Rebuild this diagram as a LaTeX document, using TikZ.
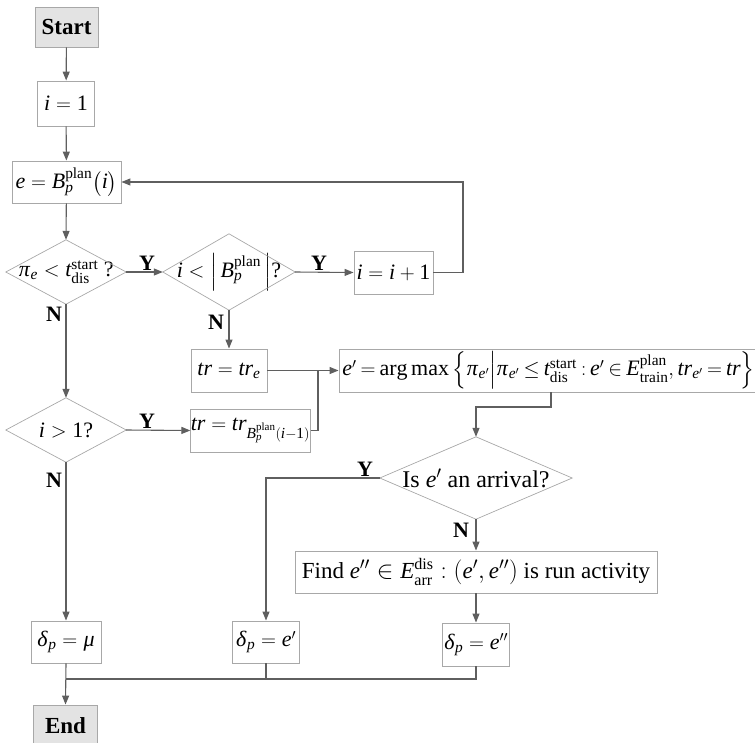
\documentclass[tikz,border=0pt]{standalone}
\usepackage{amsmath}
\usepackage{mathspec}
\setmainfont{Liberation Serif}
\setmathsfont(Digits,Latin,Greek){Liberation Serif}
\setmathrm{Liberation Serif}
\usetikzlibrary{arrows.meta}
\definecolor{linec}{HTML}{5F5F5F}
\definecolor{boxc}{HTML}{A8A8A8}
\definecolor{termc}{HTML}{E3E3E3}
\begin{document}
\begin{tikzpicture}[x=1pt,y=-1pt,
  every node/.style={font=\fontsize{22}{26}\selectfont, inner sep=0pt},
  bigtxt/.style={font=\fontsize{24}{28}\selectfont},
  midtxt/.style={font=\fontsize{23}{27}\selectfont},
  proc/.style={draw=boxc, line width=0.9pt, rectangle},
  term/.style={proc, fill=termc, font=\fontsize{23}{27}\selectfont\bfseries},
  decis/.style={rectangle},
  flow/.style={draw=linec, line width=1.1pt, -{Triangle[length=9pt,width=7pt]}},
  plainln/.style={draw=linec, line width=1.1pt},
  diam/.style={draw=boxc, line width=0.7pt},
  lbl/.style={font=\fontsize{22}{26}\selectfont\bfseries}]
\useasboundingbox (0,0) rectangle (755,742);
% terminals and processes
\node[term, minimum width=63pt, minimum height=40pt] (start) at (66.5,27) {Start};
\node[proc, minimum width=57pt, minimum height=45pt] (i1) at (66,103.5) {$i=1$};
\node[proc, minimum width=109pt, minimum height=42pt] (eB) at (66.5,182) {$e=B_p^{\mathrm{plan}}\bigl(i\bigr)$};
\node[decis, minimum width=120pt, minimum height=64pt] (d1) at (66,272) {$\pi_e<t_{\mathrm{dis}}^{\mathrm{start}}$ ?};
\node[decis, minimum width=132pt, minimum height=76pt] (d2) at (229,272) {$i<\left|\,B_p^{\mathrm{plan}}\,\right|$?};
\node[proc, minimum width=79pt, minimum height=43pt] (inc) at (393.5,272.5) {$i=i+1$};
\node[proc, minimum width=76pt, minimum height=43pt] (tre) at (229,370.5) {$tr=tr_e$};
\node[decis, minimum width=120pt, minimum height=64pt] (d3) at (66,430) {$i>1$?};
\node[proc, minimum width=119pt, minimum height=43pt] (trB) at (250.5,430.5) {$tr=tr_{B_p^{\mathrm{plan}}(i-1)}$};
\node[proc, minimum width=419pt, minimum height=43pt] (ep) at (548.5,370.5) {\thickmuskip=3.5mu\medmuskip=3mu$e'=\arg\max\left\{\pi_{e'}\middle|\pi_{e'}\le t_{\mathrm{dis}}^{\mathrm{start}}:e'\in E_{\mathrm{train}}^{\mathrm{plan}},tr_{e'}=tr\right\}$};
\node[decis, bigtxt, minimum width=192pt, minimum height=82pt] (d4) at (476,478) {Is $e'$ an arrival?};
\node[proc, midtxt, minimum width=362pt, minimum height=42pt] (find) at (476,572) {Find $e''\in E_{\mathrm{arr}}^{\mathrm{dis}}:\left(e',e''\right)$ is run activity};
\node[proc, minimum width=70pt, minimum height=42pt] (dmu) at (66,642) {$\delta_p=\mu$};
\node[proc, minimum width=67pt, minimum height=42pt] (dep) at (266,642) {$\delta_p=e'$};
\node[proc, minimum width=67pt, minimum height=43pt] (depp) at (476,644.5) {$\delta_p=e''$};
\node[term, minimum width=64pt, minimum height=41pt] (end) at (65.5,725.5) {End};
% diamonds
\foreach \d in {d1,d2,d3,d4}
  \draw[diam] (\d.north) -- (\d.east) -- (\d.south) -- (\d.west) -- cycle;
% helper coordinates
\coordinate (loopc) at (463,272.5);
\coordinate (jn) at (318,370.5);
\coordinate (epout) at (551,392);
\coordinate (epturn) at (551,407);
\coordinate (mg) at (66,679);
% connectors
\draw[flow] (start) -- (i1);
\draw[flow] (i1) -- (eB);
\draw[flow] (eB) -- (d1.north);
\draw[flow] (d1.east) -- (d2.west);
\draw[flow] (d2.east) -- (inc.west);
\draw[flow] (inc.east) -- (loopc) |- (eB.east);
\draw[flow] (d2.south) -- (tre.north);
\draw[flow] (d1.south) -- (d3.north);
\draw[flow] (d3.east) -- (trB.west);
\draw[plainln] (tre.east) -- (jn);
\draw[plainln] (trB.east) -| (jn);
\draw[flow] (jn) -- (ep.west);
\draw[flow] (epout) -- (epturn) -| (d4.north);
\draw[flow] (d4.west) -| (dep.north);
\draw[flow] (d4.south) -- (find.north);
\draw[flow] (find.south) -- (depp.north);
\draw[flow] (d3.south) -- (dmu.north);
\draw[flow] (dmu.south) -- (end.north);
\draw[plainln] (dep.south) -- (dep.south |- mg);
\draw[plainln] (depp.south) |- (mg);
% labels
\node[lbl, anchor=south] (y1) at (147,271) {Y};
\node[lbl, anchor=south] (y2) at (319,271) {Y};
\node[lbl, anchor=south] (y3) at (147,429) {Y};
\node[lbl, anchor=south] (y4) at (365,477) {Y};
\node[lbl] (n1) at (54,314) {N};
\node[lbl] (n2) at (216,322) {N};
\node[lbl] (n3) at (54,480) {N};
\node[lbl] (n4) at (461,530) {N};
\end{tikzpicture}
\end{document}
